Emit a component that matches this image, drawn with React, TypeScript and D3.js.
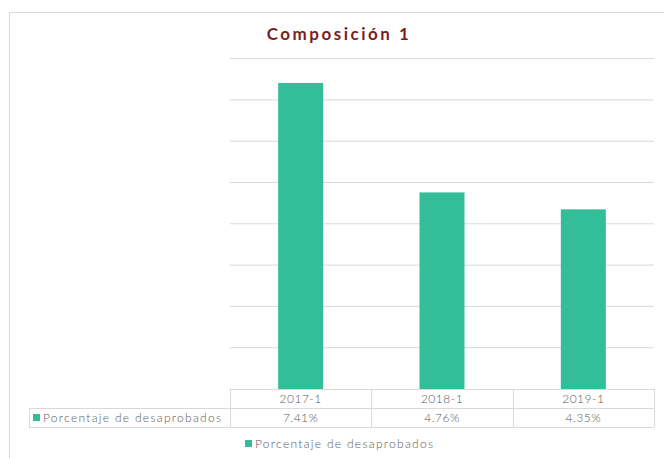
import React from "react"
import * as d3 from "d3"

const categories = ["2017-1", "2018-1", "2019-1"]
const values = [7.41, 4.76, 4.35]
const valueLabels = ["7.41%", "4.76%", "4.35%"]
const seriesName = "Porcentaje de desaprobados"
const yTicks = [0, 1, 2, 3, 4, 5, 6, 7, 8]

const W = 664
const H = 458
const font = "Lato, 'Open Sans', sans-serif"
const textColor = "#595959"
const barColor = "#33BD98"
const gridColor = "#D9D9D9"

const App = () => {
  const plot = { left: 230, right: 654, top: 58.6, bottom: 389 }
  const labelLeft = 29
  const rowH = 19

  const x = d3
    .scaleBand()
    .domain(categories)
    .range([plot.left, plot.right])
    .paddingInner(0)
    .paddingOuter(0)

  const y = d3.scaleLinear().domain([0, 8]).range([plot.bottom, plot.top])

  const barW = 45

  return (
    <svg
      width={W}
      height={H}
      style={{ position: "absolute", left: 0, top: 0, background: "#fff" }}
      fontFamily={font}
    >
      {/* chart frame */}
      <rect x={9.5} y={12.5} width={W} height={H} fill="none" stroke="#D9D9D9" />

      <text
        x={339}
        y={40}
        textAnchor="middle"
        fontSize={17}
        fontWeight="bold"
        letterSpacing={2.5}
        fill="#7B1D1D"
      >
        Composición 1
      </text>

      {/* gridlines */}
      {yTicks.slice(1).map((t) => (
        <line
          key={t}
          x1={plot.left}
          x2={plot.right}
          y1={y(t)}
          y2={y(t)}
          stroke={gridColor}
          strokeWidth={1}
        />
      ))}

      {/* bars */}
      {categories.map((c, i) => (
        <rect
          key={c}
          x={x(c)! + x.bandwidth() / 2 - barW / 2}
          y={y(values[i])}
          width={barW}
          height={y(0) - y(values[i])}
          fill={barColor}
        />
      ))}

      {/* data table */}
      <g stroke={gridColor} fill="none">
        <line x1={plot.left} x2={plot.right} y1={plot.bottom + 0.5} y2={plot.bottom + 0.5} />
        <line x1={labelLeft} x2={plot.right} y1={plot.bottom + rowH + 0.5} y2={plot.bottom + rowH + 0.5} />
        <line x1={labelLeft} x2={plot.right} y1={plot.bottom + 2 * rowH + 0.5} y2={plot.bottom + 2 * rowH + 0.5} />
        <line x1={labelLeft + 0.5} x2={labelLeft + 0.5} y1={plot.bottom + rowH} y2={plot.bottom + 2 * rowH} />
        {categories.map((c) => (
          <line
            key={c}
            x1={Math.round(x(c)!) + 0.5}
            x2={Math.round(x(c)!) + 0.5}
            y1={plot.bottom}
            y2={plot.bottom + 2 * rowH}
          />
        ))}
        <line x1={plot.right + 0.5} x2={plot.right + 0.5} y1={plot.bottom} y2={plot.bottom + 2 * rowH} />
      </g>
      {categories.map((c, i) => (
        <g key={c} fontSize={12} fontWeight={300} fill={textColor} textAnchor="middle" letterSpacing={0.5}>
          <text x={x(c)! + x.bandwidth() / 2} y={plot.bottom + 14}>
            {c}
          </text>
          <text x={x(c)! + x.bandwidth() / 2} y={plot.bottom + rowH + 14}>
            {valueLabels[i]}
          </text>
        </g>
      ))}
      <rect x={33} y={plot.bottom + rowH + 6} width={7} height={7} fill={barColor} />
      <text x={43} y={plot.bottom + rowH + 14} fontSize={12} fontWeight={300} fill={textColor} letterSpacing={1.3}>
        {seriesName}
      </text>

      {/* legend */}
      <rect x={245} y={440} width={7} height={7} fill={barColor} />
      <text x={255} y={448} fontSize={12} fontWeight={300} fill={textColor} letterSpacing={1.3}>
        {seriesName}
      </text>
    </svg>
  )
}

export default App
